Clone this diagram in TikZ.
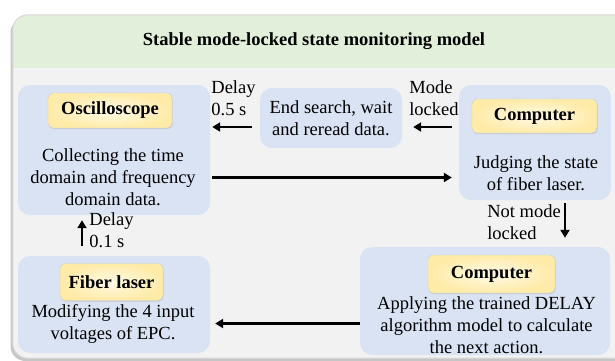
\documentclass[tikz,border=0pt]{standalone}
\usepackage{fontspec}
\setmainfont{Liberation Serif}
\usetikzlibrary{arrows.meta,shadows}

\definecolor{hdrgreen}{RGB}{226,239,218}
\definecolor{bodygray}{RGB}{242,242,242}
\definecolor{panelblue}{RGB}{218,227,243}
\definecolor{ylin}{RGB}{255,250,230}
\definecolor{ylout}{RGB}{255,235,168}

\begin{document}
\begin{tikzpicture}[x=1pt, y=-1pt,
		font=\fontsize{18.5}{22}\selectfont,
		fr/.style = {rectangle, rounded corners=15pt, fill=bodygray, inner sep=0,
			drop shadow={shadow xshift=-2.5pt, shadow yshift=-3pt, opacity=0.45}},
		pn/.style = {rectangle, rounded corners=12pt, fill=panelblue, inner sep=0, align=center},
		yl/.style = {rectangle, rounded corners=5pt, draw=black!20, inner color=ylin, outer color=ylout,
			drop shadow={shadow xshift=0.6pt, shadow yshift=-1pt, opacity=0.25},
			font=\fontsize{18.5}{22}\selectfont\bfseries},
		tx/.style = {align=center, inner sep=0},
		lb/.style = {align=left, inner sep=0},
		ar/.style = {-{Triangle[length=8pt,width=9pt]}, line width=2.6pt},
		]
		
		\useasboundingbox (0,0) rectangle (615,360);
		\clip (0,0) rectangle (615,360);
		
		%Frame
		\node[fr, minimum width=617pt, minimum height=343pt]	(frame)	at	(321.5,186.5)	{};
		\fill[hdrgreen]	([yshift=-53pt]frame.north west) [rounded corners=15pt] -- (frame.north west) -- (frame.north east) [sharp corners] -- ([yshift=-53pt]frame.north east) -- cycle;
		\draw[black!15, line width=1pt, rounded corners=15pt]	(frame.north west) rectangle (frame.south east);
		\node[font=\fontsize{18.5}{22}\selectfont\bfseries]	(title)	at	(314,41)	{Stable mode-locked state monitoring model};
		
		%Nodes
		\node[pn, minimum width=192pt, minimum height=130pt]	(osc)	at	(114,150)	{};
		\node[yl, minimum width=124pt, minimum height=35pt]	(osclbl)	at	(110,110.5)	{Oscilloscope};
		\node[tx]	(osctxt)	at	(113,177.5)	{Collecting the time\\domain and frequency\\domain data.};
		
		\node[pn, minimum width=142pt, minimum height=60pt]	(srch)	at	(331,118)	{End search, wait\\and reread data.};
		
		\node[pn, minimum width=152pt, minimum height=115pt]	(comp1)	at	(535,142.5)	{};
		\node[yl, minimum width=125pt, minimum height=34pt]	(comp1lbl)	at	(534.5,116)	{Computer};
		\node[tx]	(comp1txt)	at	(536,173)	{Judging the state\\of fiber laser.};
		
		\node[pn, minimum width=192pt, minimum height=97pt]	(fib)	at	(114,304.5)	{};
		\node[yl, minimum width=103pt, minimum height=37pt]	(fiblbl)	at	(111.5,282)	{Fiber laser};
		\node[tx]	(fibtxt)	at	(113,323.5)	{Modifying the 4 input\\voltages of EPC.};
		
		\node[pn, minimum width=250pt, minimum height=108pt]	(comp2)	at	(485,301)	{};
		\node[yl, minimum width=127pt, minimum height=38pt]	(comp2lbl)	at	(491.5,274)	{Computer};
		\node[tx]	(comp2txt)	at	(486.5,325)	{Applying the trained DELAY\\algorithm model to calculate\\the next action.};
		
		\node[lb]	(dly1)	at	(233.5,98)	{Delay\\0.5 s};
		\node[lb]	(mlk)	at	(434,98)	{Mode\\locked};
		\node[lb]	(nml)	at	(524,222.5)	{Not mode\\locked};
		\node[lb]	(dly2)	at	(111.5,230)	{Delay\\0.1 s};
		
		%Lines
		\coordinate	(a1)	at	([yshift=-9pt]srch.west);
		\coordinate	(a2)	at	([yshift=-9pt]srch.east);
		\coordinate	(a3)	at	([xshift=30pt]comp1.south);
		\coordinate	(a4)	at	([xshift=-32pt]fib.north);
		\draw[ar, shorten <=8pt, shorten >=2pt]	(a1)	--	(a1 -| osc.east);
		\draw[ar, shorten <=7pt, shorten >=11pt]	(a2 -| comp1.west)	--	(a2);
		\draw[ar, shorten <=2pt, shorten >=7pt]	(osc.east |- osctxt)	--	(comp1.west |- osctxt);
		\draw[ar, shorten <=3pt, shorten >=9pt]	(a3)	--	(a3 |- comp2.north);
		\draw[ar, shorten <=10pt, shorten >=5pt]	(a4)	--	(a4 |- osc.south);
		\draw[ar, shorten >=5pt]	(comp2.west |- fibtxt)	--	(fib.east |- fibtxt);
		
	\end{tikzpicture}
\end{document}
